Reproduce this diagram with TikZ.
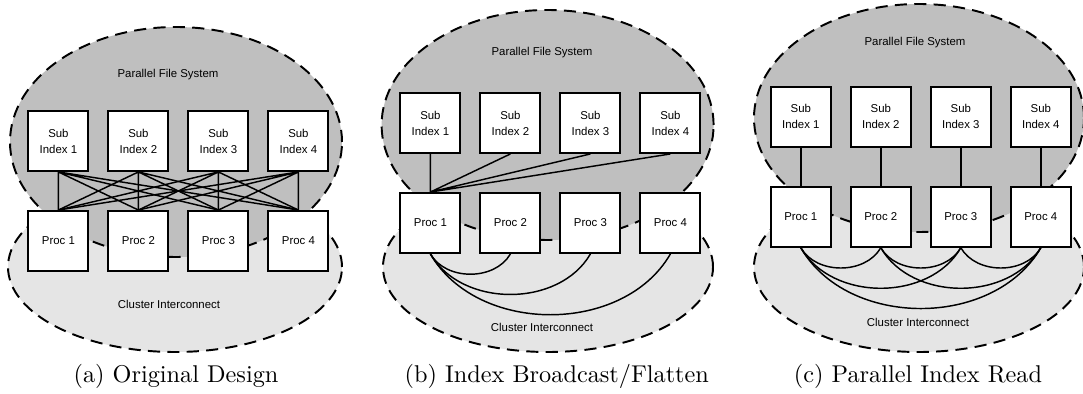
\documentclass[tikz,border=0pt]{standalone}
\usepackage{fontspec}
\newfontfamily\figfont{Liberation Sans}
\definecolor{pfsgray}{gray}{0.75}
\definecolor{netgray}{gray}{0.9}

\begin{document}
\begin{tikzpicture}[
        x=16.48pt, y=16.48pt,
        box/.style={rectangle, draw=black, line width=0.8pt, fill=white, minimum width=24.7pt, minimum height=24.7pt, inner sep=0pt, align=center, font=\figfont\fontsize{4.7pt}{6.6pt}\selectfont},
        region/.style={draw=black, dash pattern=on 5pt off 3pt, line width=0.8pt},
        link/.style={line width=0.6pt},
        regiontext/.style={font=\figfont\fontsize{4.7pt}{5.5pt}\selectfont},
        caption/.style={font=\normalsize},
    ]
        \useasboundingbox (0,0) rectangle (27.075,-9.85);

        % (a) original design
        \filldraw[region, fill=netgray] (4.375,-6.675) ellipse [x radius=4.175, y radius=2.125];
        \filldraw[region, fill=pfsgray] (4.4,-3.55) ellipse [x radius=4.15, y radius=2.875];
        \node[regiontext] (pfsa) at (4.2,-1.875) {Parallel File System};
        \node[regiontext] (neta) at (4.225,-7.6) {Cluster Interconnect};

        \node[box] (sa1) at (1.46,-3.525) {Sub\\Index 1};
        \node[box] (sa2) at (3.46,-3.525) {Sub\\Index 2};
        \node[box] (sa3) at (5.46,-3.525) {Sub\\Index 3};
        \node[box] (sa4) at (7.46,-3.525) {Sub\\Index 4};
        \node[box] (pa1) at (1.46,-6.025) {Proc 1};
        \node[box] (pa2) at (3.46,-6.025) {Proc 2};
        \node[box] (pa3) at (5.46,-6.025) {Proc 3};
        \node[box] (pa4) at (7.46,-6.025) {Proc 4};

        \draw[link] (sa1.south) -- (pa1.north) (sa1.south) -- (pa2.north) (sa1.south) -- (pa3.north) (sa1.south) -- (pa4.north);
        \draw[link] (sa2.south) -- (pa1.north) (sa2.south) -- (pa2.north) (sa2.south) -- (pa3.north) (sa2.south) -- (pa4.north);
        \draw[link] (sa3.south) -- (pa1.north) (sa3.south) -- (pa2.north) (sa3.south) -- (pa3.north) (sa3.south) -- (pa4.north);
        \draw[link] (sa4.south) -- (pa1.north) (sa4.south) -- (pa2.north) (sa4.south) -- (pa3.north) (sa4.south) -- (pa4.north);

        \node[caption] (capa) at (4.4,-9.4) {(a) Original Design};

        % (b) index broadcast/flatten
        \filldraw[region, fill=netgray] (13.7,-6.675) ellipse [x radius=4.125, y radius=2.125];
        \filldraw[region, fill=pfsgray] (13.69,-3.125) ellipse [x radius=4.15, y radius=2.875];
        \node[regiontext] (pfsb) at (13.55,-1.32) {Parallel File System};
        \node[regiontext] (netb) at (13.55,-8.19) {Cluster Interconnect};

        \node[box] (sb1) at (10.76,-3.075) {Sub\\Index 1};
        \node[box] (sb2) at (12.76,-3.075) {Sub\\Index 2};
        \node[box] (sb3) at (14.76,-3.075) {Sub\\Index 3};
        \node[box] (sb4) at (16.76,-3.075) {Sub\\Index 4};
        \node[box] (pb1) at (10.76,-5.575) {Proc 1};
        \node[box] (pb2) at (12.76,-5.575) {Proc 2};
        \node[box] (pb3) at (14.76,-5.575) {Proc 3};
        \node[box] (pb4) at (16.76,-5.575) {Proc 4};

        \draw[link] (sb1.south) -- (pb1.north) (sb2.south) -- (pb1.north) (sb3.south) -- (pb1.north) (sb4.south) -- (pb1.north);
        \draw[link] (pb1.south) to[bend right=60] (pb2.south);
        \draw[link] (pb1.south) to[bend right=60] (pb3.south);
        \draw[link] (pb1.south) to[bend right=60] (pb4.south);

        \node[caption] (capb) at (13.92,-9.4) {(b) Index Broadcast/Flatten};

        % (c) parallel index read
        \filldraw[region, fill=netgray] (22.975,-6.675) ellipse [x radius=4.125, y radius=2.125];
        \filldraw[region, fill=pfsgray] (22.975,-2.95) ellipse [x radius=4.125, y radius=2.85];
        \node[regiontext] (pfsc) at (22.875,-1.07) {Parallel File System};
        \node[regiontext] (netc) at (22.95,-8.06) {Cluster Interconnect};

        \node[box] (sc1) at (20.02,-2.92) {Sub\\Index 1};
        \node[box] (sc2) at (22.02,-2.92) {Sub\\Index 2};
        \node[box] (sc3) at (24.02,-2.92) {Sub\\Index 3};
        \node[box] (sc4) at (26.02,-2.92) {Sub\\Index 4};
        \node[box] (pc1) at (20.02,-5.42) {Proc 1};
        \node[box] (pc2) at (22.02,-5.42) {Proc 2};
        \node[box] (pc3) at (24.02,-5.42) {Proc 3};
        \node[box] (pc4) at (26.02,-5.42) {Proc 4};

        \draw[link] (sc1.south) -- (pc1.north) (sc2.south) -- (pc2.north) (sc3.south) -- (pc3.north) (sc4.south) -- (pc4.north);
        \draw[link] (pc1.south) to[bend right=60] (pc2.south);
        \draw[link] (pc1.south) to[bend right=60] (pc3.south);
        \draw[link] (pc1.south) to[bend right=60] (pc4.south);
        \draw[link] (pc2.south) to[bend right=60] (pc3.south);
        \draw[link] (pc2.south) to[bend right=60] (pc4.south);
        \draw[link] (pc3.south) to[bend right=60] (pc4.south);

        \node[caption] (capc) at (22.95,-9.4) {(c) Parallel Index Read};
    \end{tikzpicture}
\end{document}
